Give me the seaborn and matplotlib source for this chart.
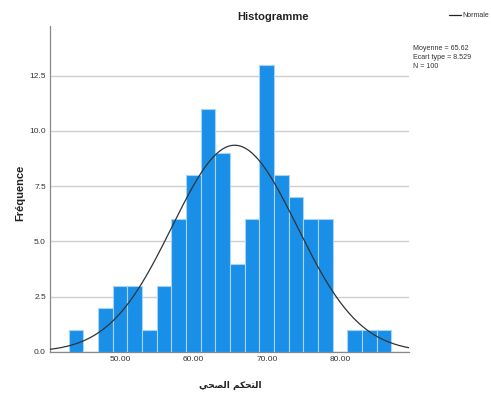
import numpy as np
import pandas as pd
import matplotlib
matplotlib.use("Agg")
import matplotlib.pyplot as plt
import seaborn as sns

# Bin centres (width 2) and frequencies of the score
bin_centers = [44, 46, 48, 50, 52, 54, 56, 58, 60, 62, 64, 66, 68,
               70, 72, 74, 76, 78, 80, 82, 84, 86]
frequencies = [1, 0, 2, 3, 3, 1, 3, 6, 8, 11, 9, 4, 6,
               13, 8, 7, 6, 6, 0, 1, 1, 1]
bin_width = 2

mean_value = 65.62
std_value = 8.529
n_value = 100

x_ticks = [50, 60, 70, 80]
y_ticks = [0.0, 2.5, 5.0, 7.5, 10.0, 12.5]

title_text = "Histogramme"
y_label = "Fréquence"
x_label = "التحكم الصحي"
legend_label = "Normale"


def shape_arabic(text):
    """Minimal contextual shaping + visual reordering for Arabic labels."""
    # iso, final, initial, medial (None when the letter does not join forward)
    forms = {
        "\u0627": ("\uFE8D", "\uFE8E", None, None),
        "\u0644": ("\uFEDD", "\uFEDE", "\uFEDF", "\uFEE0"),
        "\u062A": ("\uFE95", "\uFE96", "\uFE97", "\uFE98"),
        "\u062D": ("\uFEA1", "\uFEA2", "\uFEA3", "\uFEA4"),
        "\u0643": ("\uFED9", "\uFEDA", "\uFEDB", "\uFEDC"),
        "\u0645": ("\uFEE1", "\uFEE2", "\uFEE3", "\uFEE4"),
        "\u0635": ("\uFEB9", "\uFEBA", "\uFEBB", "\uFEBC"),
        "\u064A": ("\uFEF1", "\uFEF2", "\uFEF3", "\uFEF4"),
    }
    out = []
    for i, ch in enumerate(text):
        if ch not in forms:
            out.append(ch)
            continue
        prev = text[i - 1] if i > 0 else None
        nxt = text[i + 1] if i + 1 < len(text) else None
        join_prev = prev in forms and forms[prev][2] is not None
        join_next = nxt in forms and forms[ch][2] is not None
        iso, fin, ini, med = forms[ch]
        if join_prev and join_next:
            out.append(med)
        elif join_prev:
            out.append(fin)
        elif join_next:
            out.append(ini)
        else:
            out.append(iso)
    return "".join(reversed(out))


df = pd.DataFrame({"score": bin_centers, "count": frequencies})

sns.set_theme(style="white")
plt.rcParams["font.family"] = ["Liberation Sans", "DejaVu Sans"]

fig = plt.figure(figsize=(4.91, 3.97), dpi=100)
ax = fig.add_axes([0.102, 0.1134, 0.731, 0.8211])

lo = min(bin_centers) - bin_width / 2
hi = max(bin_centers) + bin_width / 2
sns.histplot(data=df, x="score", weights="count", binwidth=bin_width,
             binrange=(lo, hi), ax=ax, stat="count", color="#1A8FE8",
             alpha=1.0, edgecolor="#A6D4F5", linewidth=0.8, zorder=3)

# Fitted normal curve scaled to counts
xlim = (40.45, 89.4)
xs = np.linspace(xlim[0], xlim[1], 400)
ys = n_value * bin_width * np.exp(-0.5 * ((xs - mean_value) / std_value) ** 2) / (
    std_value * np.sqrt(2 * np.pi))
sns.lineplot(x=xs, y=ys, ax=ax, color="#333333", linewidth=0.9, zorder=4,
             legend=False)

ax.set_xlim(*xlim)
ax.set_ylim(0, 14.75)
ax.set_xticks(x_ticks)
ax.set_xticklabels([f"{v:.2f}" for v in x_ticks])
ax.set_yticks(y_ticks)
ax.set_yticklabels([f"{v:.1f}" for v in y_ticks])
ax.tick_params(axis="both", length=0, labelsize=6, colors="#333333", pad=3)

ax.yaxis.grid(True, color="#CFCFCF", linewidth=1.0, zorder=0)
ax.xaxis.grid(False)
ax.set_axisbelow(True)
for side in ("top", "right"):
    ax.spines[side].set_visible(False)
for side in ("left", "bottom"):
    ax.spines[side].set_color("#888888")
    ax.spines[side].set_linewidth(0.9)

ax.set_xlabel("")
ax.set_ylabel("")

fig.text(0.556, 0.958, title_text, ha="center", va="center",
         fontsize=8, fontweight="bold", color="#222222")
fig.text(0.041, 0.515, y_label, rotation=90, ha="center", va="center",
         fontsize=8, fontweight="bold", color="#222222")
fig.text(0.470, 0.030, shape_arabic(x_label), ha="center", va="center",
         fontsize=6.5, fontweight="bold", color="#222222", family="DejaVu Sans")

# Legend entry for the curve
fig.add_artist(plt.Line2D([0.914, 0.938], [0.962, 0.962],
                          transform=fig.transFigure, color="#222222",
                          linewidth=0.9))
fig.text(0.941, 0.962, legend_label, ha="left", va="center", fontsize=5,
         color="#333333")

stats = [f"Moyenne = {mean_value:.2f}",
         f"Ecart type = {std_value:.3f}",
         f"N = {n_value}"]
for i, line in enumerate(stats):
    fig.text(0.841, 0.879 - i * 0.0227, line, ha="left", va="center",
             fontsize=5.1, color="#333333")

fig.savefig("out.png", dpi=100)
